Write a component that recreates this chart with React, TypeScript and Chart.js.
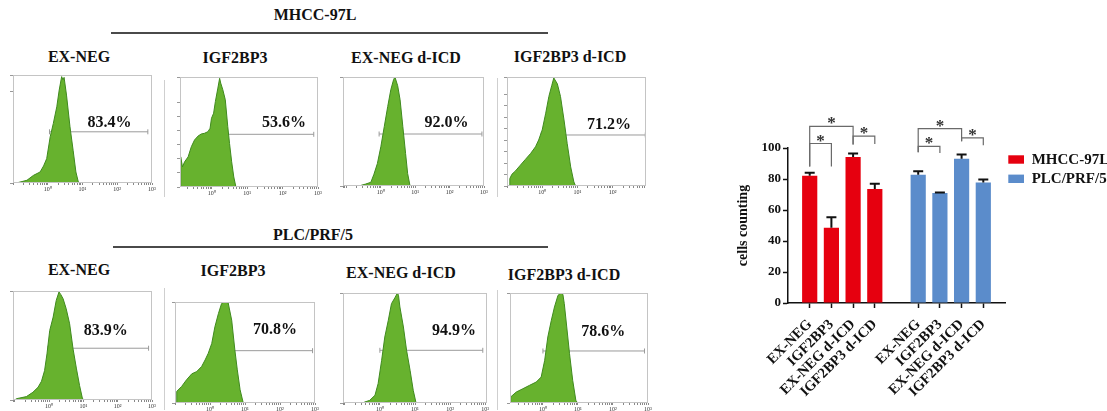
import React, { useEffect, useRef } from 'react';
import { Chart, registerables } from 'chart.js';
Chart.register(...registerables);

const FONT = "'Liberation Serif', 'Times New Roman', serif";

// ---------- bar chart data ----------
const groupLabels = ['EX-NEG', 'IGF2BP3', 'EX-NEG d-ICD', 'IGF2BP3 d-ICD'];
const seriesNames = ['MHCC-97L', 'PLC/PRF/5'];
const seriesColors = ['#e6000f', '#5b8ccb'];
const mhccMeans = [82.1, 48.6, 94.2, 73.5];
const mhccErr = [2.0, 6.8, 2.3, 3.5];
const plcMeans = [82.8, 70.9, 93.1, 77.8];
const plcErr = [2.2, 0.4, 2.7, 1.8];
const yTickStep = 20;
const yMax = 100;

// significance comparisons (indices within a group, heights in data units)
const mhccComparisons = [
  { a: 0, b: 2, level: 114.0, dropA: 88.0, dropB: 102.2 },
  { a: 0, b: 1, level: 102.9, dropA: 88.0, dropB: 88.0 },
  { a: 2, b: 3, level: 107.6, dropA: 102.2, dropB: 102.6 },
];
const plcComparisons = [
  { a: 0, b: 2, level: 112.5, dropA: 97.2, dropB: 104.3 },
  { a: 0, b: 1, level: 101.1, dropA: 97.2, dropB: 96.8 },
  { a: 2, b: 3, level: 106.5, dropA: 104.3, dropB: 101.7 },
];

// ---------- flow histogram data: [log10 intensity, % of max count] ----------
const decadeLabels = ['10⁰', '10¹', '10²', '10³'];

const histMhccExNeg = [[-0.905,0],[-0.6,2.5],[-0.41,7.1],[-0.22,10.2],[-0.12,15.8],[-0.03,22.6],[0.07,42.7],[0.16,55.1],[0.26,70.6],[0.33,86.1],[0.40,98.5],[0.44,95.4],[0.47,97.8],[0.54,81.4],[0.64,52],[0.73,30.3],[0.81,10.2],[0.88,0.9],[0.92,0]];
const histMhccIgf = [[-0.9,0],[-0.88,27.4],[-0.83,18.3],[-0.77,22.9],[-0.67,27.4],[-0.58,36.6],[-0.49,42.7],[-0.39,46.3],[-0.3,48.2],[-0.21,48.8],[-0.11,50.3],[-0.05,53.4],[-0.01,62.5],[0.05,67.1],[0.1,77.7],[0.17,89.9],[0.22,98.8],[0.25,94.5],[0.31,88.4],[0.38,79.3],[0.45,54.9],[0.5,39.6],[0.56,22.9],[0.62,9.1],[0.68,0]];
const histMhccExNegD = [[-0.64,0],[-0.44,1.8],[-0.29,3.4],[-0.2,10.8],[-0.1,20.6],[0,36],[0.1,54.5],[0.2,72.9],[0.29,88.3],[0.37,97.5],[0.41,100],[0.49,92],[0.56,79.1],[0.64,54.5],[0.72,29.8],[0.78,11.4],[0.85,0]];
const histMhccIgfD = [[-0.93,0],[-0.92,6.8],[-0.86,10.8],[-0.76,13.8],[-0.62,19.1],[-0.48,24.3],[-0.33,29.8],[-0.19,36],[-0.1,42.2],[0,51.4],[0.1,66.8],[0.19,82.2],[0.27,92],[0.33,99.1],[0.43,93.8],[0.52,82.2],[0.62,60.6],[0.71,39.1],[0.81,17.5],[0.9,3.7],[0.95,0]];
const histPlcExNeg = [[-1,0],[-0.95,1.2],[-0.66,3.1],[-0.47,7.1],[-0.32,11.7],[-0.22,17.2],[-0.13,27],[-0.06,42.3],[0.02,63.8],[0.12,76.1],[0.21,91.4],[0.29,99.1],[0.34,96.9],[0.41,92.9],[0.5,83.7],[0.6,69.9],[0.7,46.9],[0.8,28.5],[0.89,13.2],[0.97,1.8],[1.01,0]];
const histPlcIgf = [[-0.96,0],[-0.95,11.5],[-0.81,16.4],[-0.67,23],[-0.52,28.9],[-0.38,31.1],[-0.24,36.1],[-0.14,42.6],[-0.05,49.2],[0.05,59],[0.14,75.4],[0.24,88.5],[0.33,98.4],[0.4,100],[0.46,100],[0.52,99],[0.62,82],[0.71,52.5],[0.78,32.8],[0.86,13.1],[0.95,0]];
const histPlcExNegD = [[-0.48,0],[-0.43,0.9],[-0.29,2.4],[-0.14,7],[-0.05,17.6],[0.05,38.8],[0.14,60],[0.24,75.2],[0.33,90.3],[0.43,95.8],[0.5,100],[0.53,97.9],[0.57,87.3],[0.67,69.1],[0.76,47.9],[0.86,29.7],[0.95,11.5],[1.03,0]];
const histPlcIgfD = [[-0.93,0],[-0.92,5.5],[-0.76,10],[-0.57,13],[-0.38,16.1],[-0.19,19.1],[-0.05,23.6],[0.05,38.8],[0.14,60],[0.24,75.2],[0.33,87.3],[0.43,97.9],[0.52,100],[0.57,98.8],[0.61,90.3],[0.68,69.1],[0.76,44.8],[0.85,20.6],[0.94,2.4],[0.99,0]];

// gated percentages and gate ranges [from, to, height]
const gatePercents = ['83.4%', '53.6%', '92.0%', '71.2%', '83.9%', '70.8%', '94.9%', '78.6%'];
const gates = [[0.05,2.88,47.4],[0,2.88,47.9],[-0.05,2.94,47.7],[-0.03,2.93,46.8],[-0.03,2.9,47.5],[0.02,2.93,51.8],[0,2.93,47.9],[0,2.9,47.3]];
const histograms = [histMhccExNeg, histMhccIgf, histMhccExNegD, histMhccIgfD, histPlcExNeg, histPlcIgf, histPlcExNegD, histPlcIgfD];

// layout of the panels (pixels) and per-panel axis ranges
const panelLayout = [
  { l: 13, t: 75, w: 139, h: 108, xMin: -1, xMax: 3, yStep: 85, lx: 1.78, ly: 55.7 },
  { l: 180, t: 77, w: 138, h: 110, xMin: -0.9, xMax: 3, yStep: 12.8, lx: 2.04, ly: 57.9 },
  { l: 343, t: 77, w: 141, h: 109, xMin: -1.1, xMax: 3, yStep: 90, lx: 1.91, ly: 58 },
  { l: 507, t: 77, w: 139, h: 109, xMin: -1.0, xMax: 2.95, yStep: 10.5, lx: 1.9, ly: 56 },
  { l: 13, t: 291, w: 139, h: 109, xMin: -1.05, xMax: 3, yStep: 95, lx: 1.65, ly: 63.8 },
  { l: 175, t: 302, w: 140, h: 101, xMin: -1, xMax: 3, yStep: 98, lx: 1.86, ly: 72 },
  { l: 343, t: 293, w: 144, h: 110, xMin: -1.05, xMax: 3.05, yStep: 93, lx: 2.11, ly: 66 },
  { l: 510, t: 293, w: 138, h: 110, xMin: -0.94, xMax: 3, yStep: 95, lx: 1.72, ly: 64.5 },
];

function Histogram({ index }: { index: number }) {
  const ref = useRef<HTMLCanvasElement>(null);
  const p = panelLayout[index];
  useEffect(() => {
    const canvas = ref.current!;
    const data = histograms[index].map(([x, y]) => ({ x, y }));
    const g = gates[index];
    const frame = {
      id: 'frame',
      afterDraw(chart: any) {
        const { ctx, chartArea: a } = chart;
        ctx.save();
        ctx.strokeStyle = '#c4c4c4';
        ctx.lineWidth = 1;
        ctx.strokeRect(Math.round(a.left) + 0.5, Math.round(a.top) + 0.5, Math.round(a.right - a.left) - 1, Math.round(a.bottom - a.top) - 1);
        ctx.fillStyle = '#111';
        ctx.font = `bold 16px ${FONT}`;
        ctx.textAlign = 'center';
        ctx.textBaseline = 'middle';
        ctx.fillText(gatePercents[index], chart.scales.x.getPixelForValue(p.lx), chart.scales.y.getPixelForValue(p.ly));
        ctx.restore();
      },
    };
    const chart = new Chart(canvas, {
      type: 'line',
      data: {
        datasets: [
          {
            data,
            fill: 'origin',
            backgroundColor: '#67b22e',
            borderColor: '#3f8a1e',
            borderWidth: 1,
            pointRadius: 0,
            tension: 0,
          },
          {
            data: [{ x: g[0], y: g[2] }, { x: g[1], y: g[2] }],
            fill: false,
            borderColor: '#9a9a9a',
            borderWidth: 1,
            pointStyle: 'line',
            rotation: 90,
            pointRadius: 2.5,
            pointBorderColor: '#9a9a9a',
            pointBorderWidth: 1,
          },
        ],
      },
      options: {
        animation: false,
        responsive: false,
        events: [],
        layout: { padding: { left: 0, top: 6, right: 6, bottom: 0 } },
        plugins: { legend: { display: false }, tooltip: { enabled: false } },
        scales: {
          x: {
            type: 'linear',
            min: p.xMin,
            max: p.xMax,
            afterBuildTicks(scale: any) {
              const t: any[] = [];
              for (let d = -2; d < 3; d++) {
                for (let k = 1; k < 10; k++) {
                  const v = d + Math.log10(k);
                  if (v >= p.xMin && v <= p.xMax) t.push({ value: v });
                }
              }
              if (3 <= p.xMax) t.push({ value: 3 });
              scale.ticks = t;
            },
            afterFit(scale: any) { scale.height = 12; },
            ticks: {
              autoSkip: false,
              maxRotation: 0,
              padding: 1,
              color: '#333',
              font: { family: FONT, size: 6 },
              callback: (v: any) => {
                const r = Math.round(v);
                return Math.abs(v - r) < 1e-6 && r >= 0 && r <= 3 ? decadeLabels[r] : '';
              },
            },
            grid: { drawOnChartArea: false, tickLength: 2, tickColor: '#888' },
            border: { display: false },
          },
          y: {
            min: 0,
            max: 100,
            ticks: { display: false, stepSize: p.yStep },
            grid: { drawOnChartArea: false, tickLength: 3, tickColor: '#999' },
            border: { display: false },
            afterFit(scale: any) { scale.width = 10; },
          },
        },
      },
      plugins: [frame],
    } as any);
    return () => chart.destroy();
  }, [index]);
  return (
    <canvas
      ref={ref}
      width={p.w + 16}
      height={p.h + 18}
      style={{ position: 'absolute', left: p.l - 10, top: p.t - 6, width: p.w + 16, height: p.h + 18 }}
    />
  );
}

function BarChart() {
  const ref = useRef<HTMLCanvasElement>(null);
  useEffect(() => {
    const canvas = ref.current!;
    const labels = ['', ...groupLabels, '', ...groupLabels, ''];
    const pad = (n: number) => Array(n).fill(null);
    const values = [
      [null, ...mhccMeans, ...pad(6)],
      [...pad(6), ...plcMeans, null],
    ];
    const errs = [
      [null, ...mhccErr, ...pad(6)],
      [...pad(6), ...plcErr, null],
    ];
    const comps = [
      ...mhccComparisons.map((c) => ({ ...c, a: c.a + 1, b: c.b + 1 })),
      ...plcComparisons.map((c) => ({ ...c, a: c.a + 6, b: c.b + 6 })),
    ];
    const extras = {
      id: 'extras',
      afterDatasetsDraw(chart: any) {
        const { ctx } = chart;
        const x = chart.scales.x;
        const y = chart.scales.y;
        ctx.save();
        // error bars
        ctx.strokeStyle = '#111';
        ctx.lineWidth = 2;
        for (let i = 0; i < 2; i++) {
          const meta = chart.getDatasetMeta(i);
          meta.data.forEach((el: any, j: number) => {
            const e = errs[i][j];
            const v = values[i][j];
            if (e == null || v == null) return;
            const yt = y.getPixelForValue(v + e);
            ctx.beginPath();
            ctx.moveTo(el.x, el.y);
            ctx.lineTo(el.x, yt);
            ctx.moveTo(el.x - 5, yt);
            ctx.lineTo(el.x + 5, yt);
            ctx.stroke();
          });
        }
        // significance brackets
        ctx.strokeStyle = '#6a6a6a';
        ctx.lineWidth = 1.2;
        ctx.fillStyle = '#333';
        ctx.font = `bold 17px ${FONT}`;
        ctx.textAlign = 'center';
        ctx.textBaseline = 'alphabetic';
        comps.forEach((c) => {
          const xa = x.getPixelForValue(c.a);
          const xb = x.getPixelForValue(c.b);
          const yl = y.getPixelForValue(c.level);
          ctx.beginPath();
          ctx.moveTo(xa, y.getPixelForValue(c.dropA));
          ctx.lineTo(xa, yl);
          ctx.lineTo(xb, yl);
          ctx.lineTo(xb, y.getPixelForValue(c.dropB));
          ctx.stroke();
          ctx.fillText('*', (xa + xb) / 2, yl + 2);
        });
        ctx.restore();
      },
      afterDraw(chart: any) {
        const { ctx } = chart;
        ctx.save();
        ctx.font = `bold 15px ${FONT}`;
        ctx.textBaseline = 'middle';
        ctx.textAlign = 'left';
        chart.data.datasets.forEach((ds: any, i: number) => {
          const cy = 59.5 + i * 19.3;
          ctx.fillStyle = ds.backgroundColor;
          ctx.fillRect(278.3, cy - 4.2, 15.7, 8.4);
          ctx.fillStyle = '#111';
          ctx.fillText(ds.label, 301.7, cy + 0.5);
        });
        ctx.restore();
      },
    };
    const chart = new Chart(canvas, {
      type: 'bar',
      data: {
        labels,
        datasets: seriesNames.map((name, i) => ({
          label: name,
          data: values[i],
          backgroundColor: seriesColors[i],
          grouped: false,
          barPercentage: 0.7,
          categoryPercentage: 1,
        })),
      },
      options: {
        animation: false,
        responsive: false,
        events: [],
        layout: { padding: { left: 0, top: 48, right: 102, bottom: 0 } },
        plugins: { legend: { display: false }, tooltip: { enabled: false } },
        scales: {
          x: {
            type: 'category',
            offset: false,
            grid: {
              offset: false,
              drawOnChartArea: false,
              tickLength: 5,
              tickWidth: 1.5,
              tickColor: (ctx: any) => (labels[ctx.index] ? '#111' : 'rgba(0,0,0,0)'),
            },
            border: { color: '#111', width: 1.5 },
            ticks: {
              autoSkip: false,
              minRotation: 45,
              maxRotation: 45,
              padding: 8,
              color: '#111',
              font: { family: FONT, size: 14.5, weight: 'bold' },
            },
            afterFit(scale: any) { scale.height = 108; },
          },
          y: {
            min: 0,
            max: yMax,
            ticks: {
              stepSize: yTickStep,
              padding: 2,
              color: '#111',
              font: { family: FONT, size: 13, weight: 'bold' },
            },
            grid: { drawOnChartArea: false, tickLength: 5, tickWidth: 1.5, tickColor: '#111' },
            border: { color: '#111', width: 1.5 },
            title: {
              display: true,
              text: 'cells counting',
              color: '#111',
              font: { family: FONT, size: 14, weight: 'bold' },
              padding: { top: 4.6, bottom: 0 },
            },
            afterFit(scale: any) { scale.width = 58; },
          },
        },
      },
      plugins: [extras],
    } as any);
    return () => chart.destroy();
  }, []);
  return (
    <canvas
      ref={ref}
      width={377}
      height={311}
      style={{ position: 'absolute', left: 730, top: 100, width: 377, height: 311 }}
    />
  );
}

const titleStyle = (cx: number, cy: number, size = 16): React.CSSProperties => ({
  position: 'absolute',
  left: cx - 100,
  top: cy - 10,
  width: 200,
  height: 20,
  lineHeight: '20px',
  textAlign: 'center',
  fontFamily: FONT,
  fontWeight: 'bold',
  fontSize: size,
  color: '#111',
  whiteSpace: 'nowrap',
});

const rowTitles = [
  { text: 'MHCC-97L', cx: 315, cy: 15, line: { l: 111, t: 32, w: 437 } },
  { text: 'PLC/PRF/5', cx: 313, cy: 235, line: { l: 113, t: 246, w: 435 } },
];
const panelTitlePos = [
  [79, 57], [235, 58], [406, 58], [570, 57],
  [79, 270], [233, 271], [401, 273], [564, 275],
];
const separators = [
  { x: 164, t: 80, b: 197 }, { x: 497, t: 78, b: 197 },
  { x: 164, t: 288, b: 410 }, { x: 497, t: 290, b: 410 },
];

export default function App() {
  return (
    <div style={{ position: 'absolute', left: 0, top: 0, width: 1107, height: 411, background: '#fff', overflow: 'hidden' }}>
      {rowTitles.map((r) => (
        <React.Fragment key={r.text}>
          <div style={titleStyle(r.cx, r.cy)}>{r.text}</div>
          <div style={{ position: 'absolute', left: r.line.l, top: r.line.t, width: r.line.w, height: 2, background: '#4a4a4a' }} />
        </React.Fragment>
      ))}
      {panelTitlePos.map(([cx, cy], i) => (
        <div key={i} style={titleStyle(cx, cy)}>{groupLabels[i % 4]}</div>
      ))}
      {separators.map((s, i) => (
        <div key={i} style={{ position: 'absolute', left: s.x, top: s.t, width: 1, height: s.b - s.t, background: '#cfcfcf' }} />
      ))}
      {panelLayout.map((_, i) => (
        <Histogram key={i} index={i} />
      ))}
      <BarChart />
    </div>
  );
}
